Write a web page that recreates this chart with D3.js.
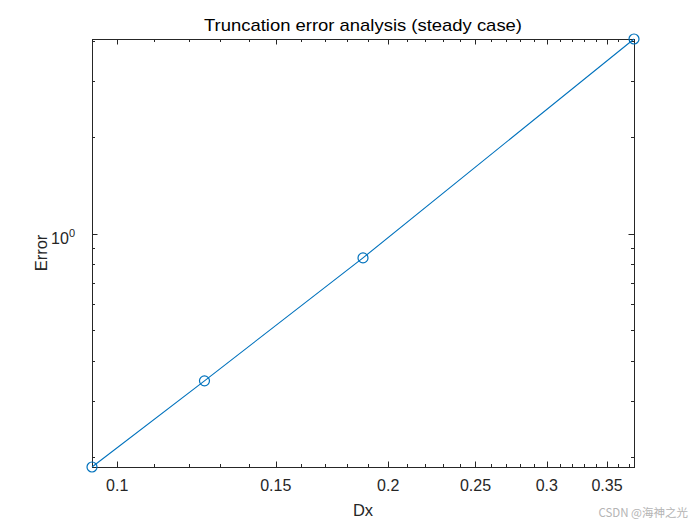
<!DOCTYPE html>
<html>
<head>
<meta charset="utf-8">
<script src="https://cdn.jsdelivr.net/npm/d3@7"></script>
<style>
  body { margin: 0; background: #fff; }
  svg { display: block; font-family: "Liberation Sans", Arial, Helvetica, sans-serif; }
</style>
</head>
<body>
<svg id="chart" width="700" height="525"></svg>
<script>
var dx = [0.375, 0.1875, 0.125, 0.09375];
var err = [4.06, 0.839, 0.346, 0.186];

var xTicks = [0.1, 0.15, 0.2, 0.25, 0.3, 0.35];
var xTickLabels = ['0.1', '0.15', '0.2', '0.25', '0.3', '0.35'];
var yTicks = [1];
var yMinorTicks = [0.2, 0.3, 0.4, 0.5, 0.6, 0.7, 0.8, 0.9, 2, 3, 4];

// note: "top" is a reserved window property, so use axL/axR/axT/axB
var axL = 92, axR = 634, axT = 39, axB = 467;
var axisColor = '#262626';
var lineColor = '#0072BD';

var svg = d3.select('#chart');

var x = d3.scaleLog()
  .domain([d3.min(dx), d3.max(dx)])
  .range([axL, axR]);
var y = d3.scaleLog()
  .domain([d3.min(err), d3.max(err)])
  .range([axB, axT]);

// minor x ticks every 0.01 inside the domain, skipping the majors
var xMinorTicks = d3.range(10, 40).map(function(d) { return d / 100; })
  .filter(function(d) {
    return d >= x.domain()[0] && d <= x.domain()[1] && xTicks.indexOf(d) < 0;
  });
yMinorTicks = yMinorTicks.filter(function(d) {
  return d >= y.domain()[0] && d <= y.domain()[1];
});

var ticks = svg.append('g')
  .attr('stroke', axisColor)
  .attr('stroke-width', 1);

function xTickMarks(vals, len) {
  vals.forEach(function(v) {
    var px = Math.round(x(v)) + 0.5;
    ticks.append('line').attr('x1', px).attr('x2', px).attr('y1', axB).attr('y2', axB - len);
    ticks.append('line').attr('x1', px).attr('x2', px).attr('y1', axT).attr('y2', axT + len);
  });
}
function yTickMarks(vals, len) {
  vals.forEach(function(v) {
    var py = Math.round(y(v)) + 0.5;
    ticks.append('line').attr('x1', axL).attr('x2', axL + len).attr('y1', py).attr('y2', py);
    ticks.append('line').attr('x1', axR).attr('x2', axR - len).attr('y1', py).attr('y2', py);
  });
}
xTickMarks(xTicks, 5.5);
xTickMarks(xMinorTicks, 3);
yTickMarks(yTicks, 5.5);
yTickMarks(yMinorTicks, 3);

svg.append('rect')
  .attr('x', axL + 0.5)
  .attr('y', axT + 0.5)
  .attr('width', axR - axL)
  .attr('height', axB - axT)
  .attr('fill', 'none')
  .attr('stroke', axisColor)
  .attr('stroke-width', 1);

svg.append('g')
  .selectAll('text')
  .data(xTicks)
  .join('text')
  .attr('x', function(d) { return x(d); })
  .attr('y', 491)
  .attr('text-anchor', 'middle')
  .attr('font-size', 16)
  .attr('fill', axisColor)
  .text(function(d, i) { return xTickLabels[i]; });

var yl = svg.append('g')
  .selectAll('text')
  .data(yTicks)
  .join('text')
  .attr('x', 75)
  .attr('y', function(d) { return y(d) + 10; })
  .attr('text-anchor', 'end')
  .attr('font-size', 16)
  .attr('fill', axisColor);
yl.append('tspan').text('10');
yl.append('tspan').attr('font-size', 11).attr('dy', -7).text('0');

svg.append('text')
  .attr('x', (axL + axR) / 2)
  .attr('y', 31)
  .attr('text-anchor', 'middle')
  .attr('font-size', 17)
  .attr('textLength', 318)
  .attr('lengthAdjust', 'spacingAndGlyphs')
  .attr('fill', '#000')
  .text('Truncation error analysis (steady case)');

svg.append('text')
  .attr('x', (axL + axR) / 2)
  .attr('y', 516)
  .attr('text-anchor', 'middle')
  .attr('font-size', 16.5)
  .attr('fill', axisColor)
  .text('Dx');

svg.append('text')
  .attr('transform', 'translate(47,' + ((axT + axB) / 2) + ') rotate(-90)')
  .attr('text-anchor', 'middle')
  .attr('font-size', 16.5)
  .attr('fill', axisColor)
  .text('Error');

var line = d3.line()
  .x(function(d) { return x(d[0]); })
  .y(function(d) { return y(d[1]); });
var pts = d3.zip(dx, err);

svg.append('path')
  .datum(pts)
  .attr('d', line)
  .attr('fill', 'none')
  .attr('stroke', lineColor)
  .attr('stroke-width', 1.1);

svg.append('g')
  .selectAll('circle')
  .data(pts)
  .join('circle')
  .attr('cx', function(d) { return x(d[0]); })
  .attr('cy', function(d) { return y(d[1]); })
  .attr('r', 5)
  .attr('fill', 'none')
  .attr('stroke', lineColor)
  .attr('stroke-width', 1.2);

svg.append('text')
  .attr('x', 688)
  .attr('y', 517)
  .attr('text-anchor', 'end')
  .attr('font-size', 11.5)
  .attr('fill', '#b4b4b4')
  .attr('font-family', '"Noto Sans CJK SC", sans-serif')
  .text('CSDN @海神之光');
</script>
</body>
</html>
